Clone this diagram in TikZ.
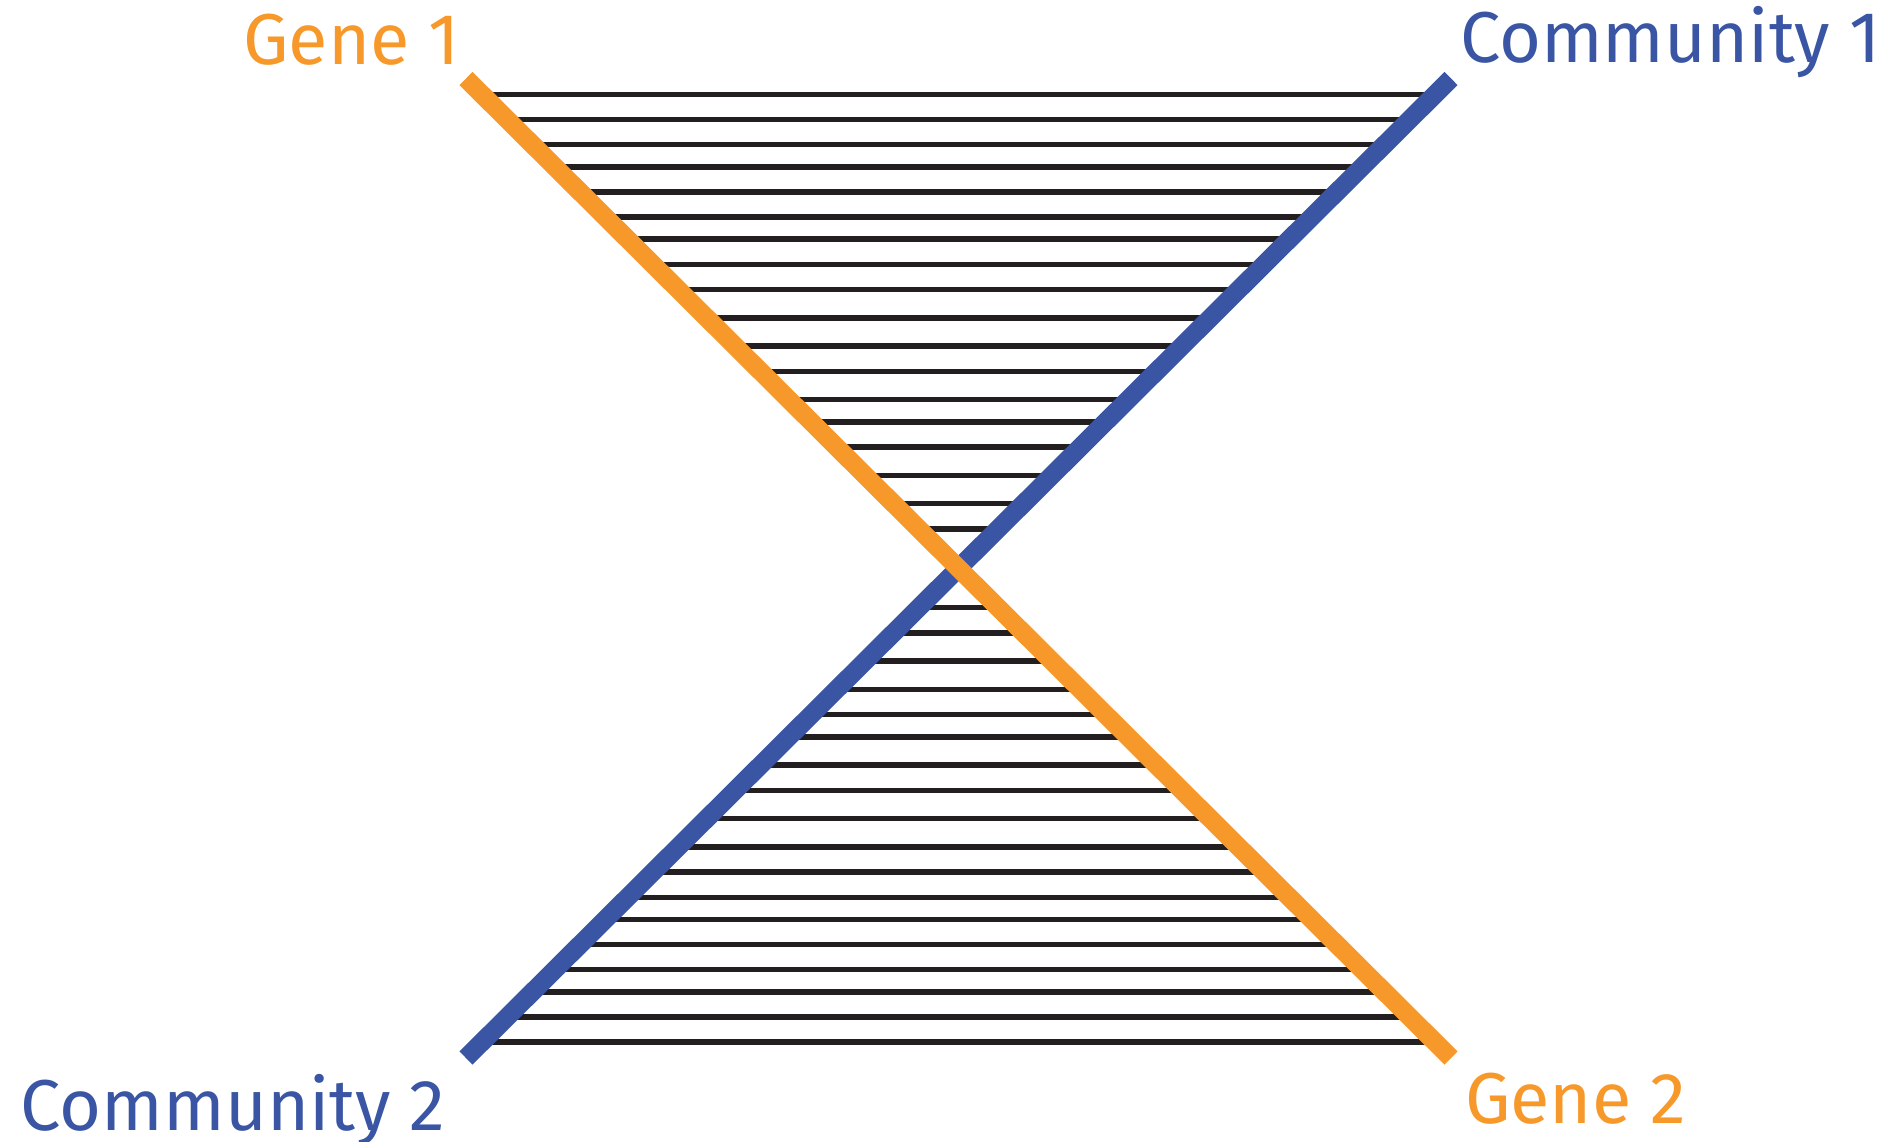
\documentclass[tikz,border=0pt]{standalone}
\usepackage{fontspec}
\setmainfont{Fira Sans}
\usetikzlibrary{calc}
\definecolor{geneorange}{HTML}{F7982A}
\definecolor{commblue}{HTML}{3A55A4}
\definecolor{rungblack}{HTML}{231F20}
\tikzset{
  diag/.style={line width=18.6pt, line cap=butt},
  rung/.style={draw=rungblack, line width=5.5pt},
  lab/.style={inner sep=0pt, font=\fontsize{72}{72}\selectfont},
}
\begin{document}
\begin{tikzpicture}[x=1pt,y=-1pt]
\useasboundingbox (0,0) rectangle (1892,1142);
\coordinate (G1) at (466,78.5);
\coordinate (G2) at (1451,1058);
\coordinate (C1) at (1451,78.5);
\coordinate (C2) at (466,1058);
\foreach \y in {94.3,119.3,144.6,166.8,192.1,216.8,238.9,264.3,289.3,317.9,346.1,371.4,399.6,421.8,447.1,475.4,503.6,528.9,
                607.5,632.8,661.0,689.3,714.6,736.8,765.0,790.3,818.5,847.1,872.1,897.5,919.6,944.3,969.6,991.8,1017.1,1042.1}{
  \pgfmathsetmacro{\t}{(\y-78.5)/979.5}
  \draw[rung] ($(G1)!\t!(G2)$) -- ($(C1)!\t!(C2)$);
}
\draw[diag, commblue] (C1) -- (C2);
\draw[diag, geneorange] (G1) -- (G2);
\node[lab, text=geneorange, anchor=base east] (g1) at (460,65) {Gene 1};
\node[lab, text=commblue, anchor=base west] (c1) at (1460,63) {Community 1};
\node[lab, text=commblue, anchor=base west] (c2) at (20.7,1130.5) {Community 2};
\node[lab, text=geneorange, anchor=base west] (g2) at (1465,1123.3) {Gene 2};
\end{tikzpicture}
\end{document}
